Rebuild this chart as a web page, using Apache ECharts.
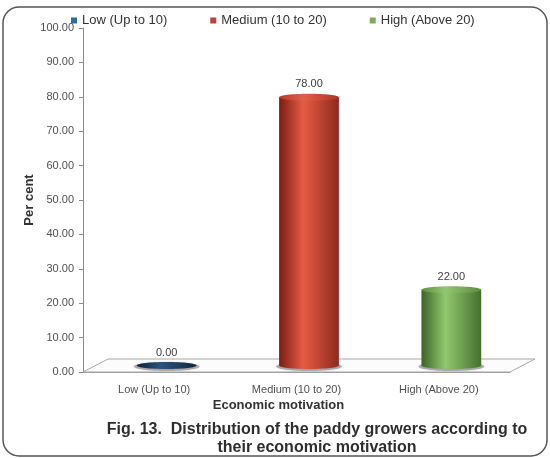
<!DOCTYPE html>
<html>
<head>
<meta charset="utf-8">
<script src="https://cdn.jsdelivr.net/npm/echarts@6/dist/echarts.min.js"></script>
<style>
  html, body { margin: 0; padding: 0; background: #ffffff; }
  #chart { width: 550px; height: 458px; }
</style>
</head>
<body>
<div id="chart"></div>
<script>
// Economic motivation groups and share of paddy growers (%)
const categories = ['Low (Up to 10)', 'Medium (10 to 20)', 'High (Above 20)'];
const percentValues = [0, 78, 22];
const yTicks = [0, 10, 20, 30, 40, 50, 60, 70, 80, 90, 100];

const FONT = 'Liberation Sans, Arial, Helvetica, sans-serif';

// Floor depth of the pseudo-3D plot area
const DEPTH_X = 25;
const DEPTH_Y = -13;

// Cylinder shading per group: [edge, highlight, shade] for the body and top face
const shading = [
  { legend: '#2b6ca3', body: ['#10243a', '#2d5a84', '#142c46'], top: ['#0d1f33', '#2a5580', '#11263d'] },
  { legend: '#c0433a', body: ['#7a1d13', '#e65b44', '#8e2a1d'], top: ['#b8372a', '#e0604a', '#b23426'] },
  { legend: '#7daa5e', body: ['#3b6327', '#92c870', '#44702e'], top: ['#5f8f42', '#94c672', '#5d8c40'] }
];

function hGrad(c) {
  return new echarts.graphic.LinearGradient(0, 0, 1, 0, [
    { offset: 0, color: c[0] },
    { offset: 0.4, color: c[1] },
    { offset: 1, color: c[2] }
  ]);
}

function cylinderRenderer(k) {
  return function (params, api) {
    const idx = api.value(0);
    const val = api.value(1);
    const base = api.coord([idx, 0]);
    const top = api.coord([idx, val]);
    const band = api.size([1, 0])[0];
    const rx = band * 0.21;
    const ry = 3.5;
    const cx = base[0] + DEPTH_X / 2;
    const by = base[1] + DEPTH_Y / 2;
    const ty = top[1] + DEPTH_Y / 2;
    const sh = shading[k];
    const children = [
      {
        type: 'ellipse',
        shape: { cx: cx, cy: by + 1, rx: rx + 3, ry: ry + 1 },
        style: { fill: 'rgba(50,50,50,0.35)', shadowBlur: 3, shadowColor: 'rgba(0,0,0,0.3)' }
      }
    ];
    if (by - ty > 0.5) {
      children.push({
        type: 'rect',
        shape: { x: cx - rx, y: ty, width: rx * 2, height: by - ty },
        style: { fill: hGrad(sh.body) }
      });
      children.push({
        type: 'ellipse',
        shape: { cx: cx, cy: by, rx: rx, ry: ry },
        style: { fill: hGrad(sh.body) }
      });
    }
    children.push({
      type: 'ellipse',
      shape: { cx: cx, cy: ty, rx: rx, ry: ry },
      style: { fill: hGrad(sh.top) }
    });
    children.push({
      type: 'text',
      style: {
        text: val.toFixed(2),
        x: cx,
        y: ty - 13,
        align: 'center',
        verticalAlign: 'middle',
        fill: '#404040',
        font: '11px ' + FONT
      }
    });
    return { type: 'group', children: children };
  };
}

function floorRenderer(params, api) {
  const cs = params.coordSys;
  const x0 = cs.x, x1 = cs.x + cs.width, y0 = cs.y + cs.height;
  return {
    type: 'polygon',
    shape: {
      points: [[x0, y0], [x1, y0], [x1 + DEPTH_X, y0 + DEPTH_Y], [x0 + DEPTH_X, y0 + DEPTH_Y]]
    },
    style: { fill: '#fcfcfc', stroke: '#a8a8a8', lineWidth: 1 }
  };
}

const series = [
  {
    type: 'custom',
    name: 'floor',
    z: 1,
    silent: true,
    renderItem: floorRenderer,
    data: [[0, 0]]
  }
].concat(categories.map(function (name, i) {
  return {
    type: 'custom',
    name: name,
    z: 3,
    itemStyle: { color: shading[i].legend },
    renderItem: cylinderRenderer(i),
    encode: { x: 0, y: 1 },
    data: [[i, percentValues[i]]]
  };
}));

const chart = echarts.init(document.getElementById('chart'), null, { renderer: 'canvas' });
chart.setOption({
  backgroundColor: '#ffffff',
  animation: false,
  textStyle: { fontFamily: FONT },
  legend: {
    data: categories,
    left: 71,
    top: 14,
    padding: 0,
    itemWidth: 6,
    itemHeight: 6,
    itemGap: 43,
    icon: 'rect',
    textStyle: { fontSize: 13, color: '#333333', fontFamily: FONT }
  },
  grid: { left: 83, right: 40, top: 28, bottom: 86 },
  xAxis: {
    type: 'category',
    data: categories,
    name: 'Economic motivation',
    nameLocation: 'middle',
    nameGap: 27,
    nameMoveOverlap: false,
    nameTextStyle: { fontSize: 13, fontWeight: 'bold', color: '#333333', padding: [0, 36, 0, 0] },
    axisLine: { lineStyle: { color: '#9a9a9a' } },
    axisTick: { length: 4, lineStyle: { color: '#9a9a9a' } },
    axisLabel: { fontSize: 11, color: '#505050', margin: 12 }
  },
  yAxis: {
    type: 'value',
    min: yTicks[0],
    max: yTicks[yTicks.length - 1],
    interval: yTicks[1] - yTicks[0],
    name: 'Per cent',
    nameLocation: 'middle',
    nameGap: 47,
    nameMoveOverlap: false,
    nameTextStyle: { fontSize: 13, fontWeight: 'bold', color: '#333333' },
    axisLine: { show: true, lineStyle: { color: '#8a8a8a' } },
    axisTick: { show: true, length: 4, lineStyle: { color: '#8a8a8a' } },
    splitLine: { show: false },
    axisLabel: {
      fontSize: 11,
      color: '#505050',
      margin: 9,
      formatter: function (v) { return v.toFixed(2); }
    }
  },
  graphic: [
    {
      type: 'rect',
      z: 0,
      silent: true,
      shape: { x: 3, y: 7, width: 544, height: 449, r: 16 },
      style: { fill: 'none', stroke: '#555555', lineWidth: 1.5 }
    },
    {
      type: 'text',
      x: 317,
      y: 439,
      style: {
        text: 'Fig. 13.  Distribution of the paddy growers according to\ntheir economic motivation',
        align: 'center',
        verticalAlign: 'middle',
        lineHeight: 18,
        font: 'bold 16px ' + FONT,
        fill: '#2e2e2e'
      }
    }
  ],
  series: series
});
</script>
</body>
</html>
